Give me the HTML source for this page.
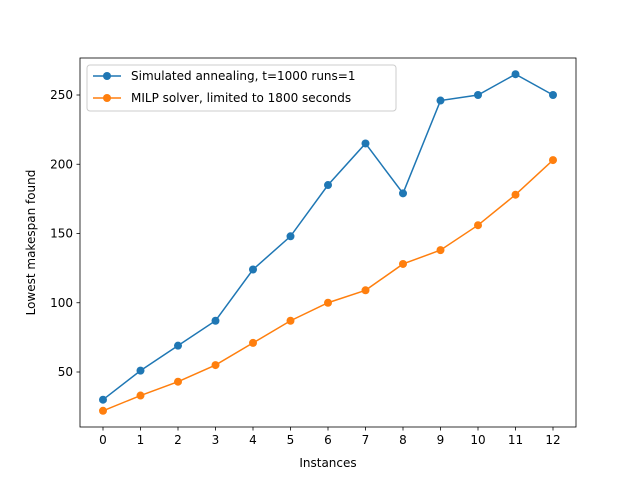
<!DOCTYPE html>
<html><head><meta charset="utf-8"><style>
body{margin:0;background:#fff;font-family:"Liberation Sans","DejaVu Sans",sans-serif;}
svg text{font-family:"DejaVu Sans","Liberation Sans",sans-serif;font-size:12px;fill:#000}
</style></head><body>
<svg id="chart" width="640" height="480" xmlns="http://www.w3.org/2000/svg">
<rect width="640" height="480" fill="#fff"/>
<g id="plot"></g>
</svg>
<script>
const categories=[0,1,2,3,4,5,6,7,8,9,10,11,12];
const saValues=[30,51,69,87,124,148,185,215,179,246,250,265,250];
const milpValues=[22,33,43,55,71,87,100,109,128,138,156,178,203];
const yTicks=[50,100,150,200,250];
const seriesNames=["Simulated annealing, t=1000 runs=1","MILP solver, limited to 1800 seconds"];
const L=80,R=576,T=58,B=427;
const xs=v=>103+v*37.5;
const ys=v=>372-(v-50)*1.385;
const NS="http://www.w3.org/2000/svg";
const g=document.getElementById('plot');
function mk(tag,attrs,parent){const e=document.createElementNS(NS,tag);for(const k in attrs)e.setAttribute(k,attrs[k]);(parent||g).appendChild(e);return e;}
const box=mk('rect',{x:L,y:T,width:R-L,height:B-T,fill:'none',stroke:'#000','stroke-width':0.8});


categories.forEach(c=>{
  const t=mk('line',{x1:xs(c),x2:xs(c),y1:B,y2:B+3.5,stroke:'#000','stroke-width':0.8});
  
  
  const l=mk('text',{x:xs(c),y:B+17,'text-anchor':'middle'});l.textContent=c;
  
  
});
yTicks.forEach(v=>{
  const t=mk('line',{x1:L-3.5,x2:L,y1:ys(v),y2:ys(v),stroke:'#000','stroke-width':0.8});
  
  
  const l=mk('text',{x:L-7,y:ys(v)+4,'text-anchor':'end'});l.textContent=v;
  
  
});
const xt=mk('text',{x:(L+R)/2,y:467,'text-anchor':'middle'});xt.textContent='Instances';


const yt=mk('text',{x:0,y:0,'text-anchor':'middle',transform:`translate(35,${(T+B)/2}) rotate(-90)`});yt.textContent='Lowest makespan found';


function series(vals,color,name){
  const p=mk('polyline',{points:vals.map((v,i)=>xs(categories[i])+','+ys(v)).join(' '),fill:'none',stroke:color,'stroke-width':1.5});
  
  
  vals.forEach((v,i)=>{
    const c=mk('circle',{cx:xs(categories[i]),cy:ys(v),r:4,fill:color});
    
    
  });
}
series(saValues,'#1f77b4','annealing');
series(milpValues,'#ff7f0e','milp');
const lg=mk('rect',{x:87,y:65,width:309,height:46,rx:3,fill:'#fff','fill-opacity':0.8,stroke:'#ccc','stroke-width':1});


[['#1f77b4',76],['#ff7f0e',98]].forEach((s,i)=>{
  const l=mk('line',{x1:93,x2:121,y1:s[1],y2:s[1],stroke:s[0],'stroke-width':1.5});
  
  
  const c=mk('circle',{cx:107,cy:s[1],r:4,fill:s[0]});
  
  
  const t=mk('text',{x:131,y:s[1]+4});t.textContent=seriesNames[i];
  
  
});
</script>
</body></html>
